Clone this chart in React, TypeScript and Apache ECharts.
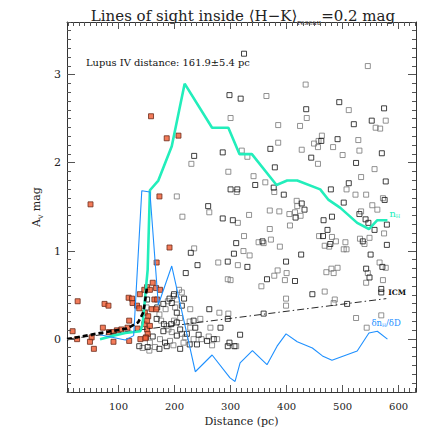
import React, { useEffect, useRef } from 'react';
import * as echarts from 'echarts';

const xMin = 8;
const xMax = 631;
const yMin = -0.6;
const yMax = 3.6;
const xMajor = [100, 200, 300, 400, 500, 600];
const yMajor = [0, 1, 2, 3];

const titleMain = 'Lines of sight inside ⟨H−K⟩';
const titleSub = 'reseau';
const titleTail = '=0.2 mag';
const noteText = 'Lupus IV distance: 161.9±5.4 pc';

// n_H (green)
const nH = [
  [67, 0.0], [91, 0.04], [112, 0.07], [139, 0.09], [143, 0.17], [152, 0.79], [156, 1.69],
  [171, 1.8], [195, 2.19], [218, 2.9], [267, 2.4], [296, 2.4], [316, 2.1], [338, 2.1],
  [382, 1.75], [401, 1.8], [419, 1.8], [460, 1.7], [475, 1.58], [496, 1.49], [526, 1.32],
  [547, 1.25], [562, 1.35], [580, 1.35],
];

// δn_H/δD (blue)
const dnH = [
  [67, 0.05], [112, -0.01], [127, 0.04], [141.5, 1.685], [156, 1.67], [171, 0.39], [195, 0.83],
  [237, -0.37], [267, -0.18], [299, -0.44], [308, -0.48], [317, -0.27], [339, -0.13],
  [365, -0.29], [383, -0.08], [399, 0.06], [419, -0.03], [446, -0.1], [464, -0.19],
  [481, -0.24], [526, -0.135], [547, 0.07], [562, 0.09], [580, 0.0],
];

// thick dashed black
const nearFit = [[8, 0], [73, 0.076], [115, 0.12], [135, 0.19], [144, 0.3], [147, 0.41], [150.5, 0.58]];

// ICM dash-dot
const icm = [[8, 0], [578, 0.46]];

const darkStars = [
  [324, 3.24], [298, 2.77], [318, 2.73], [286, 2.12], [235, 2.08], [300, 1.7], [312, 1.7], [260, 1.51], [286, 1.37], [304, 1.35],
  [494, 2.69], [574, 2.62], [435, 2.61], [552, 2.48], [520, 2.44], [491, 2.27], [462, 2.25], [371, 2.16], [570, 2.11], [444, 2.06],
  [524, 2.0], [379, 1.95], [344, 1.75], [377, 1.72], [395, 1.64], [511, 1.77], [577, 1.79], [479, 1.7], [575, 1.58], [427, 1.54],
  [432, 1.47], [502, 1.55], [530, 1.42], [416, 1.38], [481, 1.39], [466, 1.35], [541, 1.36], [546, 1.32], [579, 1.3], [473, 1.24],
  [557, 1.24], [465, 1.17], [310, 1.09], [357, 1.11], [478, 1.08], [536, 1.11], [579, 1.07], [306, 0.97], [426, 0.96], [550, 0.96],
  [399, 0.88], [330, 0.82], [542, 0.8], [571, 0.82], [548, 0.7], [365, 0.68], [415, 0.66], [569, 0.57], [569, 0.53], [446, 0.51],
  [508, 0.4], [359, 0.29], [317, 0.05], [307, -0.08],
  [229, 0.98], [241, 0.84], [295, 0.88], [220, 0.75], [262, 0.34], [295, 0.23], [234, 0.21], [237, 0.13], [282, 0.13], [270, 0.0],
  [258, -0.02], [298, -0.04], [295, -0.08], [217, 0.46], [191, 0.46], [180, 0.4], [195, 0.41], [204, 0.3], [199, 0.51], [169, 0.36],
  [168, 0.23], [181, 0.17], [194, 0.17], [204, 0.19], [222, 0.06], [243, 0.05], [240, -0.06], [227, -0.06], [183, -0.04], [186, -0.08],
  [161, 0.03], [152, -0.09], [173, -0.11], [210, -0.11], [204, 0.04], [180, 0.09], [210, 0.11], [137, -0.08], [213, 0.38], [151, 0.45],
];

const grayStars = [
  [300, 2.51], [320, 2.14], [330, 2.07], [230, 1.99], [296, 1.9], [311, 1.67], [204, 1.62], [262, 1.44], [214, 1.39], [333, 1.41],
  [545, 3.1], [434, 2.89], [364, 2.76], [511, 2.6], [436, 2.51], [577, 2.48], [385, 2.43], [424, 2.42], [559, 2.4], [567, 2.39],
  [463, 2.31], [385, 2.23], [528, 2.26], [457, 2.25], [449, 2.22], [456, 2.18], [427, 2.15], [483, 2.18], [530, 2.14], [500, 2.09],
  [456, 1.99], [557, 1.93], [341, 1.85], [362, 1.78], [378, 1.67], [533, 1.84], [507, 1.7], [523, 1.64], [542, 1.64], [572, 1.6],
  [418, 1.57], [419, 1.51], [370, 1.46], [387, 1.45], [405, 1.42], [415, 1.44], [553, 1.52], [562, 1.47], [533, 1.45], [425, 1.4],
  [313, 1.32], [406, 1.29], [370, 1.25], [324, 1.17], [458, 1.17], [481, 1.16], [574, 1.2], [350, 1.1], [359, 1.09], [372, 1.13],
  [488, 1.11], [505, 1.1], [468, 1.06], [476, 1.05], [388, 1.05], [502, 1.02], [507, 1.02], [531, 1.14], [539, 1.08], [548, 1.15],
  [323, 1.0], [334, 0.95], [313, 0.84], [566, 0.87], [577, 0.81], [384, 0.78], [400, 0.75], [491, 0.81], [480, 0.8], [471, 0.76],
  [484, 0.75], [545, 0.75], [300, 0.67], [378, 0.72], [397, 0.67], [572, 0.67], [355, 0.6], [542, 0.64], [468, 0.54], [399, 0.46],
  [486, 0.45], [484, 0.41], [399, 0.38], [524, 0.24], [569, 0.27], [543, 0.13],
  [235, 1.03], [278, 0.87], [295, 0.68], [280, 0.3], [246, 0.23], [227, 0.2], [264, 0.13], [261, 0.03], [276, 0.0], [267, -0.07],
  [310, -0.08], [213, 0.53], [198, 0.49], [188, 0.43], [184, 0.34], [201, 0.36], [210, 0.24], [208, 0.56], [173, 0.28], [176, 0.21],
  [186, 0.15], [199, 0.21], [213, 0.06], [234, 0.0], [248, 0.0], [216, -0.04], [174, 0.0], [192, -0.02], [198, -0.07], [156, -0.04],
  [165, -0.09], [143, -0.1], [219, 0.02], [195, 0.08], [189, 0.11], [228, 0.13], [155, -0.13], [296, 0.29], [228, 0.34], [150, 0.36],
  [204, 0.45],
];

const redStars = [
  [158, 2.53], [186, 2.28], [207, 2.31], [173, 1.62], [50, 1.53], [191, 1.04], [168, 0.87], [146, 0.56], [151, 0.59], [156, 0.56],
  [161, 0.64], [167, 0.58], [174, 0.56], [138, 0.51], [118, 0.47], [124, 0.46], [125, 0.41], [27, 0.43], [75, 0.4], [82, 0.38],
  [133, 0.38], [137, 0.35], [119, 0.21], [72, 0.13], [105, 0.11], [97, 0.1], [91, 0.08], [83, 0.08], [18, 0.09], [26, 0.0],
  [52, 0.02], [49, -0.03], [91, -0.03], [119, -0.02], [139, 0.0], [56, -0.11], [146, 0.17], [151, 0.11], [152, 0.06], [149, 0.02],
  [147, 0.3], [153, 0.26], [151, 0.21], [164, 0.45], [169, 0.45], [159, 0.34], [167, 0.34], [156, 0.15], [148, 0.01], [134, 0.12],
  [116, 0.13],
];

const FONT = '"DejaVu Serif", "DejaVu Sans", serif';
const TICK_COLOR = '#555';

export default function App() {
  const ref = useRef<HTMLDivElement>(null);
  useEffect(() => {
    if (!ref.current) return;
    const chart = echarts.init(ref.current, null, { renderer: 'svg' });

    const frameLine = { show: true, onZero: false, lineStyle: { color: '#333', width: 1 } };
    const baseX = { type: 'value' as const, min: xMin, max: xMax, splitLine: { show: false }, axisTick: { show: false } };
    const baseY = { type: 'value' as const, min: yMin, max: yMax, splitLine: { show: false }, axisTick: { show: false } };

    const noteGraphic = {
      type: 'text',
      id: 'note',
      left: 86,
      top: 57,
      style: { text: noteText, fontFamily: FONT, fontSize: 9.9, fill: '#111' },
    };

    const option: any = {
      animation: false,
      backgroundColor: '#fff',
      title: {
        text: `{a|${titleMain}}{s|${titleSub}}{a|${titleTail}}`,
        left: 238,
        top: 1,
        textAlign: 'center',
        textStyle: {
          fontWeight: 'normal',
          rich: {
            a: { fontFamily: FONT, fontSize: 15, fontWeight: 'normal', color: '#222', lineHeight: 20 },
            s: { fontFamily: FONT, fontSize: 7, fontWeight: 'normal', color: '#222', verticalAlign: 'bottom', lineHeight: 12 },
          },
        },
      },
      grid: { left: 67, right: 20, top: 22, bottom: 44, containLabel: false },
      xAxis: [
        {
          ...baseX,
          position: 'bottom',
          axisLine: frameLine,
          axisLabel: { customValues: xMajor, fontFamily: FONT, fontSize: 10, fontWeight: 'normal', color: '#222', margin: 9 },
          name: 'Distance (pc)',
          nameLocation: 'middle',
          nameGap: 20,
          nameTextStyle: { fontFamily: FONT, fontSize: 11, fontWeight: 'normal', color: '#222' },
        },
        { ...baseX, position: 'top', axisLine: frameLine, axisLabel: { show: false } },
      ],
      yAxis: [
        {
          ...baseY,
          position: 'left',
          axisLine: frameLine,
          axisLabel: { customValues: yMajor, fontFamily: FONT, fontSize: 11, fontWeight: 'normal', color: '#222', margin: 6 },
          name: '{a|A}{s|V}{a| mag}',
          nameLocation: 'middle',
          nameRotate: 90,
          nameGap: 15,
          nameTextStyle: {
            rich: {
              a: { fontFamily: FONT, fontSize: 11, fontWeight: 'normal', color: '#222', lineHeight: 14 },
              s: { fontFamily: FONT, fontSize: 6, fontWeight: 'normal', color: '#222', verticalAlign: 'bottom', lineHeight: 8 },
            },
          },
        },
        { ...baseY, position: 'right', axisLine: frameLine, axisLabel: { show: false } },
      ],
      graphic: [noteGraphic],
      series: [
        {
          type: 'scatter',
          data: grayStars,
          symbol: 'rect',
          symbolSize: 5,
          itemStyle: { color: 'rgba(255,255,255,0)', borderColor: '#777', borderWidth: 1 },
          z: 2,
        },
        {
          type: 'scatter',
          data: darkStars,
          symbol: 'rect',
          symbolSize: 5,
          itemStyle: { color: 'rgba(255,255,255,0)', borderColor: '#111', borderWidth: 1 },
          z: 2,
        },
        {
          type: 'scatter',
          data: redStars,
          symbol: 'rect',
          symbolSize: 5,
          itemStyle: { color: '#f05a30', borderColor: '#6a2a1a', borderWidth: 1 },
          z: 3,
        },
        {
          type: 'line',
          data: nH,
          showSymbol: false,
          symbol: 'none',
          lineStyle: { color: '#22eebb', width: 2.6 },
          z: 5,
          endLabel: {
            show: true,
            formatter: '{n|n}{h|H}',
            distance: 2,
            offset: [0, -7],
            rich: {
              n: { fontFamily: FONT, fontSize: 10, color: '#22eebb' },
              h: { fontFamily: FONT, fontSize: 5, color: '#22eebb', verticalAlign: 'bottom' },
            },
          },
        },
        {
          type: 'line',
          data: dnH,
          showSymbol: false,
          symbol: 'none',
          lineStyle: { color: '#1e90ff', width: 1.1 },
          z: 5,
          endLabel: {
            show: true,
            formatter: '{n|δn}{h|H}{n|/δD}',
            distance: 0,
            offset: [-16, -16],
            rich: {
              n: { fontFamily: FONT, fontSize: 8.5, color: '#1e90ff' },
              h: { fontFamily: FONT, fontSize: 4.5, color: '#1e90ff', verticalAlign: 'bottom' },
            },
          },
        },
        {
          type: 'line',
          data: nearFit,
          showSymbol: false,
          symbol: 'none',
          lineStyle: { color: '#000', width: 2.6, type: [5, 3] },
          z: 6,
        },
        {
          type: 'line',
          data: icm,
          showSymbol: false,
          symbol: 'none',
          lineStyle: { color: '#111', width: 0.9, type: [7, 3, 1.5, 3] },
          z: 4,
          endLabel: {
            show: true,
            formatter: 'ICM',
            distance: 2,
            offset: [0, -6],
            fontFamily: FONT,
            fontSize: 7.5,
            fontWeight: 'bold',
            color: '#111',
          },
        },
      ],
    };
    chart.setOption(option);

    // frame ticks, placed through the chart's own scales
    const crisp = (v: number) => Math.round(v - 0.5) + 0.5;
    const ticks: any[] = [];
    const mk = (x1: number, y1: number, x2: number, y2: number) => ({
      type: 'line',
      silent: true,
      z: 50,
      shape: { x1, y1, x2, y2 },
      style: { stroke: TICK_COLOR, lineWidth: 1 },
    });
    for (let v = 10; v <= 630; v += 10) {
      const len = v % 100 === 0 ? 7 : 4;
      const b = chart.convertToPixel({ gridIndex: 0 }, [v, yMin]) as number[];
      const t = chart.convertToPixel({ gridIndex: 0 }, [v, yMax]) as number[];
      if (!b || !t) continue;
      const x = crisp(b[0]);
      ticks.push(mk(x, b[1], x, b[1] - len), mk(x, t[1], x, t[1] + len));
    }
    for (let i = -6; i <= 36; i++) {
      const v = i / 10;
      const len = i % 10 === 0 ? 8 : 4;
      const l = chart.convertToPixel({ gridIndex: 0 }, [xMin, v]) as number[];
      const r = chart.convertToPixel({ gridIndex: 0 }, [xMax, v]) as number[];
      if (!l || !r) continue;
      const y = crisp(l[1]);
      ticks.push(mk(l[0], y, l[0] + len, y), mk(r[0], y, r[0] - len, y));
    }
    chart.setOption({ graphic: [noteGraphic, ...ticks] });

    return () => chart.dispose();
  }, []);
  return <div ref={ref} style={{ position: 'absolute', left: 0, top: 0, width: 436, height: 436 }} />;
}
